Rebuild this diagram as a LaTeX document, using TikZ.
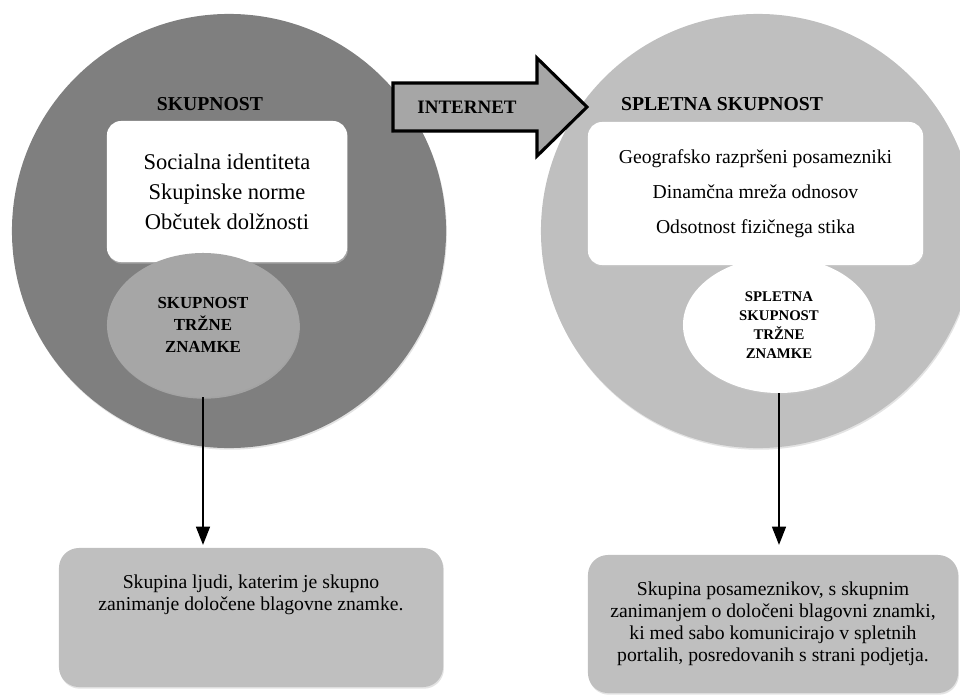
\documentclass[tikz,border=0pt]{standalone}
\usepackage{fontspec}
\setmainfont{Liberation Serif}
\usetikzlibrary{shapes.geometric,arrows.meta,positioning,shadows}

\definecolor{darkgrey}{HTML}{7F7F7F}
\definecolor{midgrey}{HTML}{A6A6A6}
\definecolor{lightgrey}{HTML}{BFBFBF}

\begin{document}
\begin{tikzpicture}[x=0.025cm,y=-0.025cm,
  halo/.style={drop shadow={shadow xshift=0.6pt,shadow yshift=-1.2pt,fill=black!22}},
  ring/.style={circle,minimum size=10.85cm,inner sep=0pt,halo},
  card/.style={rectangle,rounded corners=0.35cm,fill=white,inner sep=0pt,align=center,halo},
  blob/.style={ellipse,inner sep=0pt,align=center,halo},
  note/.style={rectangle,rounded corners=0.5cm,fill=lightgrey,inner sep=0pt,halo},
  title/.style={font=\bfseries\fontsize{14}{17}\selectfont},
  link/.style={-{Triangle[width=10pt,length=13pt]},line width=1pt}]

        \clip (0,0) rectangle (960,696);

        % the two communities
        \node[ring,fill=darkgrey] (skup) at (229,231) {};
        \node[ring,fill=lightgrey] (splet) at (758,231) {};

        % internet arrow
        \draw[fill=midgrey,line width=2.2pt,halo]
          (393,83) -- (537,83) -- (537,58) -- (587,107) -- (537,156) -- (537,131) -- (393,131) -- cycle;
        \node[font=\bfseries\fontsize{13.5}{16}\selectfont] (inet) at (467,107) {INTERNET};

        \node[title] (skupT) at (210,104) {SKUPNOST};
        \node[title] (spletT) at (722,104) {SPLETNA SKUPNOST};

        \node[card,minimum width=6cm,minimum height=3.525cm,font=\fontsize{16}{21.3}\selectfont]
          (skupBox) at (227,191.5) {Socialna identiteta\\Skupinske norme\\Občutek dolžnosti};
        \node[card,minimum width=8.375cm,minimum height=3.575cm,font=\fontsize{14}{24.8}\selectfont]
          (spletBox) at (755.5,193.5) {Geografsko razpršeni posamezniki\\Dinamčna mreža odnosov\\Odsotnost fizičnega stika};

        \node[blob,fill=midgrey,minimum width=4.8cm,minimum height=3.6cm,font=\bfseries\fontsize{12}{15.6}\selectfont]
          (skupTZ) at (203,325) {SKUPNOST\\TRŽNE\\ZNAMKE};
        \node[blob,fill=white,minimum width=4.8cm,minimum height=3.4cm,font=\bfseries\fontsize{10.5}{13.5}\selectfont]
          (spletTZ) at (779,325) {SPLETNA\\SKUPNOST\\TRŽNE\\ZNAMKE};

        % descriptions
        \node[note,minimum width=9.6cm,minimum height=3.475cm] (opisA) at (251,617.5) {};
        \node[align=center,font=\fontsize{14}{15.6}\selectfont,anchor=north] (opisAtxt) at ([yshift=-0.55cm]opisA.north)
          {Skupina ljudi, katerim je skupno\\zanimanje določene blagovne znamke.};
        \node[note,minimum width=9.25cm,minimum height=3.45cm,align=center,font=\fontsize{14}{15.6}\selectfont]
          (opisB) at (773,624) {Skupina posameznikov, s skupnim\\zanimanjem o določeni blagovni znamki,\\ki med sabo komunicirajo v spletnih\\portalih, posredovanih s strani podjetja.};

        \draw[link,shorten >=2pt] (skupTZ.south) -- (skupTZ.south |- opisA.north);
        \draw[link,shorten >=7pt] (spletTZ.south) -- (spletTZ.south |- opisB.north);
      \end{tikzpicture}
\end{document}
